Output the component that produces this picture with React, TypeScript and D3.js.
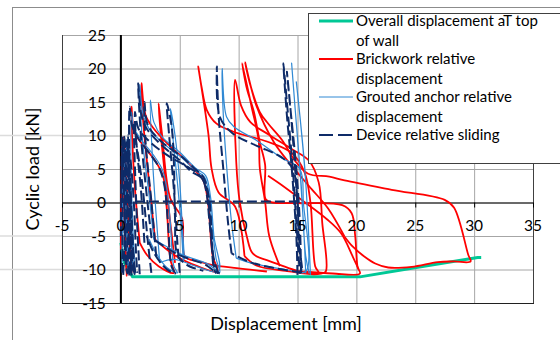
import React from "react";
import * as d3 from "d3";

type Pt = [number, number];

// tick values
const xTicks = [-5, 0, 5, 10, 15, 20, 25, 30, 35];
const yTicks = [-15, -10, -5, 0, 5, 10, 15, 20, 25];

// Overall displacement at top of wall (only the envelope shows)
const overallLoops: Pt[][] = [
  [[0, -6], [0.3, -9], [1.0, -11.1], [8, -11.1], [15, -11.1], [20.3, -11.1], [24.7, -9.8], [30.3, -8.2], [30.6, -8.2]],
];

// Brickwork relative displacement
const brickLoops: Pt[][] = [
  [[0.0, -7], [0.05, 2], [0.1, 8.5], [0.2, 3], [0.45, -9.5], [0.5, -11], [0.35, -4], [0.25, 9.8], [0.4, 6], [0.7, -5], [0.9, -10.5]],
  [[1.6, -6], [1.2, 2], [0.95, 10], [0.9, 14.3], [1.15, 10.5], [2, 8.3], [3, 6], [3.6, 3.8], [3.9, -1], [4.2, -8.5], [4.5, -10.5], [3.2, -9.5], [2.2, -7.8], [1.6, -6]],
  [[2.9, -5.5], [2.4, 3], [1.9, 12], [1.75, 17.8], [2.1, 13], [2.8, 11], [4, 8.7], [5.5, 6.3], [6.3, 4.8], [7.0, 3.3], [7.4, 0], [7.8, -8], [8.2, -10.3], [6.5, -9.5], [4.5, -7.8], [2.9, -5.5]],
  [[4.6, -9], [4.0, 0], [3.4, 10], [3.2, 14.8], [3.5, 10.1], [4.2, 0.6], [5.2, -2.4], [5.45, -8.1], [6.6, -8.8], [7.7, -9.3], [9.85, -9.8], [12.4, -10.3]],
  [[10.5, -8], [9.7, -0.6], [8.3, 1.5], [7.7, 5.1], [7.44, 10.1], [6.57, 20.3], [6.85, 17.3], [7.3, 13.8], [8.1, 11.8], [9.5, 10.6], [12.4, 9.1], [14.5, 7.4], [15.6, 4.5], [16.1, 0], [16.5, -9.5], [16.8, -10.6], [14, -10.2], [11.5, -9.4], [10.5, -8]],
  [[12.4, -8.6], [11.2, -7.6], [10.7, -5.1], [10.1, 0], [9.8, 6], [9.7, 18.3], [10.2, 14.5], [11, 12], [12.5, 10.2], [14.5, 8], [16, 6.2], [16.8, 3], [17.1, -3], [17.4, -10.3], [17.0, -10.6], [15, -10.2], [13.5, -9.3], [12.4, -8.6]],
  [[13.5, -9.5], [12.6, -5], [12.25, 0.1], [11.8, 5.1], [11.7, 9.3], [11.1, 14.3], [10.3, 20.8], [10.7, 17], [11.3, 13.5], [11.8, 9], [12.25, 5.6], [12.3, 0.5], [12.9, 0], [15, -0.1], [18.8, -0.4], [19.6, -1.6], [19.9, -5], [20.1, -9.6], [20.3, -10.6], [18, -10.6], [15.5, -10.3]],
  [[12.5, 4], [13.5, 2.8], [15.5, 0.2], [17.5, -2.5], [18.7, -4.6], [19.7, -8.1], [20.2, -10]],
  [[19.0, -5.1], [17.6, -0.9], [16.2, 2], [14.5, 5.5], [13, 9], [11.5, 14.5], [10.55, 20.9], [11, 17.5], [11.8, 13.5], [12.5, 11.8], [13.7, 9.3], [14.8, 6.2], [15.9, 4.3], [17.7, 3.85], [19, 3.3], [23, 1.9], [27.5, 0.4], [28.3, -0.8], [29.5, -7.8], [29.7, -8.8], [28.3, -8.8], [26.9, -8.9], [24.7, -9.6], [22.7, -9.7], [21.6, -9.1], [20.7, -8.1], [19.7, -6.6], [19.0, -5.1]],
];

// Grouted anchor relative displacement
const anchorLoops: Pt[][] = [
  [[0.1, -9], [0.15, 0], [0.2, 9], [0.35, 3], [0.6, -9], [0.7, -10.5], [0.5, -4], [0.45, 7], [0.55, 9.5], [0.8, 0], [1.0, -10]],
  [[1.2, -10.6], [1.0, -3], [0.85, 7], [0.9, 13.5], [1.1, 11.2], [1.8, 9.2], [2.8, 7], [3.5, 5], [3.9, 2.2], [4.2, -3], [4.5, -9.5], [4.8, -10.5], [3.9, -9.7], [3.0, -7.6], [2.4, -5.5]],
  [[2.8, -5.5], [2.4, 1], [1.8, 10], [1.6, 17.6], [1.9, 13], [2.4, 11], [3.7, 8.7], [5.3, 6.5], [6.3, 4.8], [7.1, 3.8], [7.5, 1], [7.7, -2.5], [8.1, -8.5], [8.4, -10.4], [7.4, -9.2], [5.1, -7.7], [2.8, -5.5]],
  [[3.3, -9], [3.0, -2], [2.7, 6], [2.5, 15.3], [2.8, 12], [3.5, 9.8], [5, 7.5], [6.3, 5.2], [7.2, 4], [7.6, 1], [7.9, -5], [8.3, -10.3], [6.5, -9.6], [4.5, -8.5], [3.3, -9]],
  [[5.3, -8.8], [5.1, -3], [4.8, 3], [4.4, 10], [4.2, 14], [4.6, 10], [5.0, 3], [5.2, -3], [5.4, -8.5]],
  [[9.8, -8.3], [9.4, -3], [9.0, 5], [8.7, 13], [8.6, 20], [8.97, 12.8], [9.6, 11.3], [11.5, 9.3], [13.7, 6.6], [15.2, 5], [15.5, 0], [15.7, -10.3], [14, -10], [11, -9], [9.8, -8.3]],
  [[15.7, -10.6], [15.5, -3], [15.2, 5.1], [14.8, 14], [14.5, 20.8], [14.8, 14], [15.3, 3], [15.7, -8], [16.0, -10.6]],
  [[16.1, -10.8], [15.9, -3], [15.6, 5.6], [15.2, 13], [14.9, 18], [15.2, 13], [15.7, 3], [16.1, -10.8]],
];

// Device relative sliding
const deviceLoops: Pt[][] = [
  [[0.0, -5], [0.05, 4], [0.1, 8.2], [0.25, 2], [0.45, -8], [0.55, -10.6], [0.4, -9], [0.3, -1], [0.2, 6], [0.3, 9.8], [0.45, 4], [0.7, -7], [0.85, -10.8]],
  [[0.1, -10.5], [0.15, -3], [0.1, 5], [0.15, 9.9], [0.3, 6], [0.5, -2], [0.6, -9], [0.75, -11], [0.65, -5], [0.5, 4], [0.45, 9], [0.6, 7], [0.9, -2], [1.1, -9], [1.25, -10.9]],
  [[0.2, -10.8], [0.3, -6], [0.35, 2], [0.3, 8.8], [0.5, 5], [0.8, -4], [0.95, -10.2], [0.85, -7], [0.7, 2], [0.6, 8], [0.8, 6.5], [1.1, 0], [1.3, -8], [1.4, -10.5]],
  [[0.9, -10.9], [0.75, -2], [0.55, 7], [0.6, 10], [0.8, 3], [1.0, -6], [1.2, -10.8], [1.0, -9], [0.85, 0], [0.7, 8], [0.75, 14.3], [0.95, 11.5], [1.5, 9.5], [2.5, 7.2], [3.3, 5], [3.7, 2.5], [4.0, -3], [4.3, -9.5], [4.6, -10.6], [3.8, -9.8], [2.8, -7.5], [2.2, -5]],
  [[2.6, -5.3], [2.2, 1], [1.7, 10], [1.47, 17.8], [1.75, 13], [2.2, 11], [3.5, 8.5], [5.0, 6.3], [6.0, 4.6], [6.9, 3.6], [7.3, 1.1], [7.5, -2.4], [7.9, -8.5], [8.2, -10.5], [7.2, -9.3], [4.9, -7.8], [2.6, -5.3]],
  [[2.0, -6], [1.7, 2], [1.3, 9], [1.2, 13.5], [1.5, 11], [2.5, 9], [4, 7], [5.5, 5.5], [6.6, 4.2], [7.2, 2.5], [7.6, -3], [7.9, -9.8], [8.1, -10.6]],
  [[3.0, -8], [2.6, 0], [2.1, 9], [2.0, 15], [2.3, 11.5], [3.5, 9], [5.2, 6.8], [6.3, 5], [7.0, 3.8], [7.5, 0.5], [7.7, -4], [8.0, -10], [8.4, -10.6]],
  [[1.6, -10.7], [1.4, -4], [1.2, 5], [1.1, 12], [1.3, 9], [1.8, 3], [2.3, -6], [2.6, -10.7]],
  [[5.0, -10.5], [4.8, -6], [4.5, 2], [4.1, 10], [3.9, 14.8], [4.3, 11.5], [4.5, 6], [4.6, -2.4], [4.8, -7.8], [5.6, -9.3], [7.0, -10.2]],
  [[9.4, -7.6], [9.1, -3], [8.7, 5], [8.3, 13], [8.15, 20.3], [8.4, 12.8], [9.5, 10.3], [11.5, 8.5], [13.6, 6.8], [14.6, 5], [15.0, 0], [15.1, -6], [15.3, -10.4], [14.8, -10.3], [12.5, -9.6], [10.8, -8.8], [9.4, -7.6]],
  [[15.0, -10.8], [14.9, -5], [14.5, 5.3], [14.1, 13], [13.8, 20.8], [14.1, 15], [14.6, 5], [14.9, -3], [15.2, -10.6]],
  [[15.3, -10.5], [15.2, -3], [14.9, 5], [14.4, 14], [14.1, 19.5], [14.4, 14], [14.8, 5], [15.1, -4], [15.35, -10.7]],
  [[0, 0.15], [15.2, 0.15]],
];

const series = [
  { name: ["Overall displacement aT top", "of wall"], loops: overallLoops, color: "#00C896", width: 3, dash: "", smooth: false },
  { name: ["Brickwork relative", "displacement"], loops: brickLoops, color: "#FF0000", width: 1.8, dash: "", smooth: true },
  { name: ["Grouted anchor relative", "displacement"], loops: anchorLoops, color: "#3089D4", width: 1.2, dash: "", smooth: true },
  { name: ["Device relative sliding"], loops: deviceLoops, color: "#0E2B68", width: 2, dash: "10,4", smooth: true },
];

export default function App() {
  const x = d3.scaleLinear().domain([-5, 35]).range([62, 533]);
  const y = d3.scaleLinear().domain([-15, 25]).range([303, 35]);
  const smoothLine = d3
    .line<Pt>()
    .x((d) => x(d[0]))
    .y((d) => y(d[1]))
    .curve(d3.curveCatmullRom.alpha(0.5));
  const straightLine = d3
    .line<Pt>()
    .x((d) => x(d[0]))
    .y((d) => y(d[1]));

  const font = "Lato, 'Open Sans', sans-serif";

  return (
    <svg width={560} height={340} style={{ position: "absolute", left: 0, top: 0, background: "#fff" }}>
      <rect x={12.5} y={7.5} width={560} height={340} fill="#fff" stroke="#8c8c8c" />
      {/* faint lines left of plot */}
      {[10, -5, -10].map((v) => (
        <line key={v} x1={0} x2={x(-5)} y1={y(v)} y2={y(v)} stroke="#dcdcdc" strokeWidth={1.5} />
      ))}
      {/* grid */}
      {yTicks.map((v) => (
        <line key={"h" + v} x1={x(-5)} x2={x(35)} y1={y(v) + 0.5} y2={y(v) + 0.5} stroke="#a6a6a6" />
      ))}
      {xTicks.map((v) => (
        <line key={"v" + v} x1={x(v) + 0.5} x2={x(v) + 0.5} y1={y(25)} y2={y(-15)} stroke="#a6a6a6" />
      ))}
      <line x1={x(-5) + 0.5} x2={x(-5) + 0.5} y1={y(25)} y2={y(-15)} stroke="#404040" />
      <line x1={x(35) + 0.5} x2={x(35) + 0.5} y1={y(25)} y2={y(-15)} stroke="#404040" />
      <line x1={x(-5)} x2={x(35) + 1} y1={y(-15) + 0.5} y2={y(-15) + 0.5} stroke="#202020" />
      {/* x axis at y=0 */}
      <line x1={x(-5)} x2={x(35)} y1={y(0) + 0.5} y2={y(0) + 0.5} stroke="#000" />
      {xTicks.map((v) => (
        <line key={"t" + v} x1={x(v) + 0.5} x2={x(v) + 0.5} y1={y(0)} y2={y(0) + 5} stroke="#000" />
      ))}
      {/* y axis at x=0 */}
      <line x1={x(0)} x2={x(0)} y1={y(25)} y2={y(-15)} stroke="#000" strokeWidth={2} />
      {/* series */}
      {series.map((s) =>
        s.loops.map((l, i) => (
          <path
            key={s.color + i}
            d={(s.smooth ? smoothLine(l) : straightLine(l)) || ""}
            fill="none"
            stroke={s.color}
            strokeWidth={s.width}
            strokeDasharray={s.dash || undefined}
            strokeLinejoin="round"
          />
        ))
      )}
      {/* tick labels */}
      {yTicks.map((v) => (
        <text key={"yl" + v} x={x(0) - 15} y={y(v)} dy="0.36em" textAnchor="end" fontSize={15.5} fontFamily={font} fill="#000">
          {v}
        </text>
      ))}
      {xTicks.map((v) => (
        <text key={"xl" + v} x={x(v)} y={230.5} textAnchor="middle" fontSize={15.5} fontFamily={font} fill="#000">
          {v}
        </text>
      ))}
      {/* axis titles */}
      <text x={286} y={330} textAnchor="middle" fontSize={18} fontFamily={font} fill="#000">
        Displacement [mm]
      </text>
      <text transform={`translate(39,${(y(25) + y(-15)) / 2}) rotate(-90)`} textAnchor="middle" fontSize={18} fontFamily={font} fill="#000">
        Cyclic load [kN]
      </text>
      {/* legend */}
      <rect x={308.5} y={13.5} width={260} height={150} fill="#fff" stroke="#404040" />
      {series.map((s, i) => {
        const cy = 21 + i * 38;
        return (
          <g key={"lg" + i}>
            <line x1={319} x2={353} y1={cy} y2={cy} stroke={s.color} strokeWidth={s.width === 1.2 ? 1 : s.width} strokeDasharray={s.dash ? "14,5" : undefined} />
            {s.name.map((t, j) => (
              <text key={j} x={356} y={cy + j * 20} dy="0.36em" fontSize={15} fontFamily={font} fill="#000">
                {t}
              </text>
            ))}
          </g>
        );
      })}
    </svg>
  );
}
